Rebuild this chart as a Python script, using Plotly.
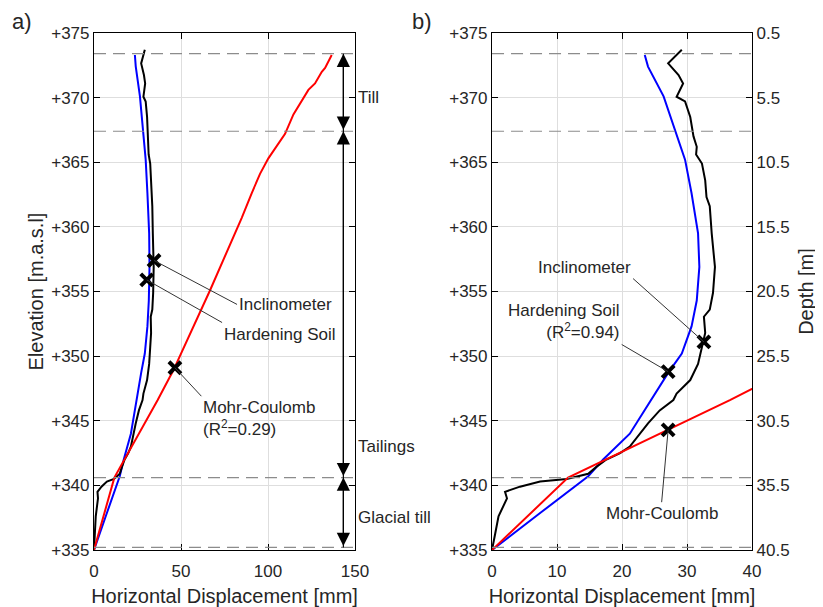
import plotly.graph_objects as go

# ---------------- data ----------------
# Inclinometer: elevation [m.a.s.l] and horizontal displacement [mm]
incl_elev = [373.7, 372.65, 371.75, 371.1, 370.07, 369.7, 368.5, 367.0, 366.2, 365.6,
             364.9, 363.6, 362.3, 361.6, 359.5, 356.9, 354.9, 353.6, 353.05, 351.8,
             350.7, 349.4, 348.15, 347.1, 346.6, 345.8, 344.8, 343.8, 343.0, 342.5,
             342.0, 341.45, 340.9, 340.5, 340.3, 339.9, 339.5, 339.0, 337.6, 336.3, 335.0]
incl_disp = [29.2, 27.1, 28.7, 29.4, 28.4, 29.7, 30.5, 31.0, 31.5, 31.4,
             32.3, 32.8, 33.0, 33.5, 33.8, 34.3, 34.0, 33.5, 32.6, 32.8,
             32.3, 31.7, 30.5, 28.4, 27.9, 25.8, 24.0, 22.5, 21.2, 19.7,
             17.6, 16.1, 14.8, 11.5, 7.4, 4.3, 2.0, 2.3, 1.0, 0.5, 0.0]

# Hardening Soil model
hs_elev = [373.3, 372.4, 370.1, 367.5, 365.2, 362.6, 359.5, 356.9, 354.3, 352.3,
           350.2, 348.7, 346.9, 344.0, 342.0, 340.7, 337.9, 335.0]
hs_disp = [23.5, 24.0, 26.4, 28.2, 29.7, 30.7, 31.7, 31.9, 31.5, 30.7,
           29.2, 27.1, 24.8, 21.2, 17.1, 14.8, 7.5, 0.0]

# Mohr-Coulomb model
mc_elev = [335.0, 340.6, 346.6, 348.9, 355.1, 360.7, 362.6, 364.1, 365.3, 366.3,
           367.2, 368.7, 369.8, 370.6, 371.1, 372.0, 372.3, 373.3]
mc_disp = [0.0, 11.7, 36.6, 45.6, 66.7, 84.9, 90.6, 95.4, 100.2, 105.0,
           109.8, 114.6, 119.4, 123.2, 127.0, 130.9, 132.8, 136.6]

# Layer boundaries and names
layer_bounds = [373.4, 367.4, 340.6, 335.2]
layer_names = ["Till", "Tailings", "Glacial till"]
layer_label_elev = [370.0, 343.0, 337.5]
layer_arrow_x = 143.3

# Ticks
elev_ticks = [375, 370, 365, 360, 355, 350, 345, 340, 335]
elev_tick_text = ["+%d" % v for v in elev_ticks]
depth_ticks = [0.5, 5.5, 10.5, 15.5, 20.5, 25.5, 30.5, 35.5, 40.5]
xticks_a = [0, 50, 100, 150]
xticks_b = [0, 10, 20, 30, 40]

# Labelled points (marker x, marker elevation, label end x, label end elevation)
labels_a = ["Inclinometer", "Hardening Soil", "Mohr-Coulomb<br>(R<sup>2</sup>=0.29)"]
mark_a_x = [34.5, 30.3, 46.5]
mark_a_y = [357.4, 355.9, 349.1]
tail_a_x = [82.2, 73.6, 61.7]
tail_a_y = [354.0, 352.6, 346.9]
anchor_a = [("left", "middle"), ("left", "top"), ("left", "top")]

labels_b = ["Inclinometer", "Hardening Soil<br>(R<sup>2</sup>=0.94)", "Mohr-Coulomb"]
mark_b_x = [32.6, 27.1, 27.1]
mark_b_y = [351.1, 348.8, 344.3]
tail_b_x = [21.7, 19.95, 26.1]
tail_b_y = [356.0, 350.9, 338.7]
anchor_b = [("right", "bottom"), ("right", "bottom"), ("center", "top")]

# ---------------- figure ----------------
FONT = "Liberation Sans, Arial, Helvetica, sans-serif"
TXT = "#262626"
fig = go.Figure()

for xa, ya in [("x", "y"), ("x2", "y2")]:
    fig.add_trace(go.Scatter(x=hs_disp, y=hs_elev, mode="lines", xaxis=xa, yaxis=ya,
                             line=dict(color="#0000ff", width=2), showlegend=False, hoverinfo="skip"))
    fig.add_trace(go.Scatter(x=incl_disp, y=incl_elev, mode="lines", xaxis=xa, yaxis=ya,
                             line=dict(color="#000000", width=2), showlegend=False, hoverinfo="skip"))
    fig.add_trace(go.Scatter(x=mc_disp, y=mc_elev, mode="lines", xaxis=xa, yaxis=ya,
                             line=dict(color="#ff0000", width=2), showlegend=False, hoverinfo="skip"))

marker_style = dict(symbol="x-thin-open", size=12, color="black", line=dict(width=4, color="black"))
fig.add_trace(go.Scatter(x=mark_a_x, y=mark_a_y, mode="markers", xaxis="x", yaxis="y",
                         marker=marker_style, showlegend=False, hoverinfo="skip"))
fig.add_trace(go.Scatter(x=mark_b_x, y=mark_b_y, mode="markers", xaxis="x2", yaxis="y2",
                         marker=marker_style, showlegend=False, hoverinfo="skip"))
# depth axis (right of panel b)
fig.add_trace(go.Scatter(x=incl_disp, y=[375.5 - e for e in incl_elev], mode="none", xaxis="x2", yaxis="y3",
                         showlegend=False, hoverinfo="skip"))

shapes = []
for xr, yr in [("x", "y"), ("x2", "y2")]:
    for b in layer_bounds:
        shapes.append(dict(type="line", xref=xr + " domain", yref=yr, x0=0, x1=1, y0=b, y1=b,
                           line=dict(color="#8c8c8c", width=1.2, dash="12px,7px")))
# layer extent line (double arrows drawn on top via annotations)
shapes.append(dict(type="line", xref="x", yref="y", x0=layer_arrow_x, x1=layer_arrow_x,
                   y0=layer_bounds[0], y1=layer_bounds[-1], line=dict(color="black", width=1.2)))

annotations = []
for i in range(3):
    annotations.append(dict(x=mark_a_x[i], y=mark_a_y[i], xref="x", yref="y",
                            ax=tail_a_x[i], ay=tail_a_y[i], axref="x", ayref="y",
                            text=labels_a[i], showarrow=True, arrowhead=0, arrowwidth=1, arrowcolor="#333333",
                            xanchor=anchor_a[i][0], yanchor=anchor_a[i][1], align="left",
                            font=dict(family=FONT, size=17, color=TXT)))
    annotations.append(dict(x=mark_b_x[i], y=mark_b_y[i], xref="x2", yref="y2",
                            ax=tail_b_x[i], ay=tail_b_y[i], axref="x2", ayref="y2",
                            text=labels_b[i], showarrow=True, arrowhead=0, arrowwidth=1, arrowcolor="#333333",
                            xanchor=anchor_b[i][0], yanchor=anchor_b[i][1], align="right",
                            font=dict(family=FONT, size=17, color=TXT)))

for i in range(3):
    annotations.append(dict(x=layer_arrow_x, y=layer_bounds[i], xref="x", yref="y",
                            ax=layer_arrow_x, ay=layer_bounds[i + 1], axref="x", ayref="y",
                            text="", showarrow=True, arrowhead=2, arrowside="end+start",
                            arrowsize=2.2, arrowwidth=1.2, arrowcolor="black"))
    annotations.append(dict(x=1.0, y=layer_label_elev[i], xref="x domain", yref="y",
                            text=layer_names[i], showarrow=False, xanchor="left", yanchor="middle",
                            xshift=1, font=dict(family=FONT, size=17, color=TXT)))

annotations.append(dict(x=-0.128, y=1.022, xref="paper", yref="paper", text="a)", showarrow=False,
                        xanchor="left", yanchor="middle", font=dict(family=FONT, size=22, color=TXT)))
annotations.append(dict(x=0.48, y=1.022, xref="paper", yref="paper", text="b)", showarrow=False,
                        xanchor="left", yanchor="middle", font=dict(family=FONT, size=22, color=TXT)))

axis_common = dict(showline=True, linecolor="black", linewidth=1.2, mirror="ticks", ticks="inside",
                   ticklen=6, tickcolor="black", showgrid=True, gridcolor="#dedede", gridwidth=1,
                   zeroline=False, tickfont=dict(family=FONT, size=17, color=TXT))

# The page body adds an 8 px offset, so the figure is 8 px smaller and margins shifted.
fig.update_layout(
    width=815, height=599,
    margin=dict(l=86, r=71, t=25, b=57, autoexpand=False),
    paper_bgcolor="white", plot_bgcolor="white",
    shapes=shapes, annotations=annotations,
    xaxis=dict(domain=[0, 0.3967], range=[0, 150], tickvals=xticks_a, anchor="y", ticklabelstandoff=5,
               title=dict(text="Horizontal Displacement [mm]", font=dict(family=FONT, size=20, color=TXT), standoff=9),
               **axis_common),
    yaxis=dict(domain=[0, 1], range=[335, 375], tickvals=elev_ticks, ticktext=elev_tick_text, anchor="x",
               title=dict(text="Elevation [m.a.s.l]", font=dict(family=FONT, size=20, color=TXT), standoff=2),
               **axis_common),
    xaxis2=dict(domain=[0.6049, 1], range=[0, 40], tickvals=xticks_b, anchor="y2", ticklabelstandoff=5,
                title=dict(text="Horizontal Displacement [mm]", font=dict(family=FONT, size=20, color=TXT), standoff=9),
                **axis_common),
    yaxis2=dict(domain=[0, 1], range=[335, 375], tickvals=elev_ticks, ticktext=elev_tick_text, anchor="x2",
                **axis_common),
    yaxis3=dict(overlaying="y2", side="right", anchor="x2", range=[40.5, 0.5], tickvals=depth_ticks,
                ticktext=[str(v) for v in depth_ticks], showline=True, linecolor="black", linewidth=1.2,
                ticks="inside", ticklen=6, tickcolor="black", showgrid=False, zeroline=False,
                tickfont=dict(family=FONT, size=17, color=TXT),
                title=dict(text="Depth [m]", font=dict(family=FONT, size=20, color=TXT), standoff=10)),
)

fig.write_html("out.html")
